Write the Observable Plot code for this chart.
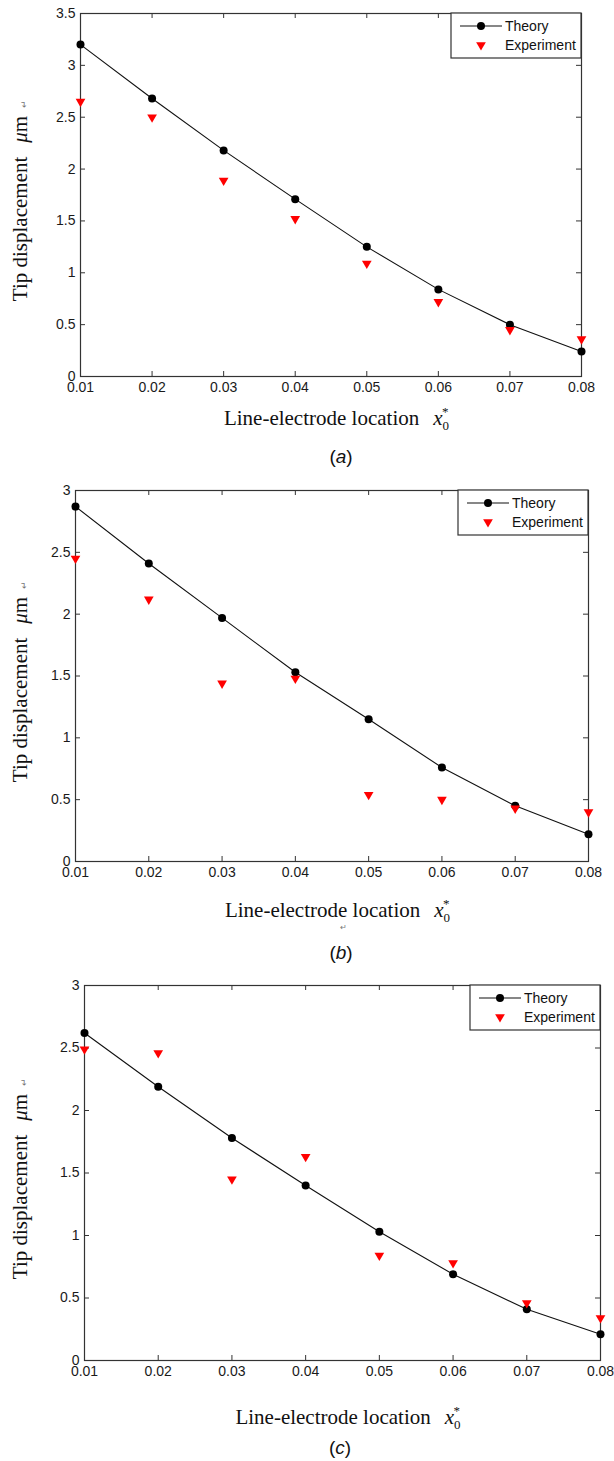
<!DOCTYPE html>
<html>
<head>
<meta charset="utf-8">
<script src="https://cdn.jsdelivr.net/npm/d3@7"></script>
<script src="https://cdn.jsdelivr.net/npm/@observablehq/plot@0.6"></script>
<style>
  html, body { margin: 0; padding: 0; background: #fff; }
  body { width: 614px; height: 1461px; position: relative; overflow: hidden; }
  .panel { position: absolute; left: 0; }
  .cap { position: absolute; font-family: "Liberation Sans", Arial, sans-serif; font-size: 19px; color: #111;
         transform: translate(-50%, -50%); white-space: nowrap; }
</style>
</head>
<body>
<script>
// ---------- data ----------
const xLocations = [0.01, 0.02, 0.03, 0.04, 0.05, 0.06, 0.07, 0.08];
const xTicks = [0.01, 0.02, 0.03, 0.04, 0.05, 0.06, 0.07, 0.08];

const theoryA     = [3.20, 2.68, 2.18, 1.71, 1.25, 0.84, 0.50, 0.24];
const experimentA = [2.65, 2.50, 1.89, 1.52, 1.09, 0.72, 0.45, 0.36];

const theoryB     = [2.87, 2.41, 1.97, 1.53, 1.15, 0.76, 0.45, 0.22];
const experimentB = [2.45, 2.12, 1.44, 1.48, 0.54, 0.50, 0.43, 0.40];

const theoryC     = [2.62, 2.19, 1.78, 1.40, 1.03, 0.69, 0.41, 0.21];
const experimentC = [2.49, 2.46, 1.45, 1.63, 0.84, 0.78, 0.46, 0.34];

const yTicksA = [0, 0.5, 1, 1.5, 2, 2.5, 3, 3.5];
const yTicksBC = [0, 0.5, 1, 1.5, 2, 2.5, 3];

const seriesNames = ["Theory", "Experiment"];
const panelLetters = ["a", "b", "c"];

// ---------- drawing ----------
const sans = "'Liberation Sans', Arial, sans-serif";
const serif = "'Liberation Serif', 'Times New Roman', serif";

function makePanel(cfg) {
  const {theory, experiment, yMax, yTicks, top, height, mt, mb, ml, mr, xLabelDy, letter, captionY, captionX, returnMark} = cfg;
  const W = 614;
  const fw = W - ml - mr, fh = height - mt - mb;
  const data = xLocations.map((x, i) => ({x, theory: theory[i], experiment: experiment[i]}));

  const plot = Plot.plot({
    width: W, height,
    marginTop: mt, marginBottom: mb, marginLeft: ml, marginRight: mr,
    style: {fontFamily: sans, fontSize: "14px", color: "#1a1a1a", background: "white", overflow: "visible"},
    x: {domain: [0.01, 0.08]},
    y: {domain: [0, yMax]},
    marks: [
      Plot.axisX(xTicks, {tickSize: 0, tickPadding: 6, tickFormat: d => d.toFixed(2), label: null, fontSize: 14}),
      Plot.axisY(yTicks, {tickSize: 0, tickPadding: 5, tickFormat: d => String(d), label: null, fontSize: 14}),
      Plot.tickX(xTicks, {x: d => d, insetTop: fh - 5, stroke: "#333"}),
      Plot.tickX(xTicks, {x: d => d, insetBottom: fh - 5, stroke: "#333"}),
      Plot.tickY(yTicks, {y: d => d, insetRight: fw - 5, stroke: "#333"}),
      Plot.tickY(yTicks, {y: d => d, insetLeft: fw - 5, stroke: "#333"}),
      Plot.frame({stroke: "#333", strokeWidth: 1.2}),
      Plot.line(data, {x: "x", y: "theory", stroke: "#111", strokeWidth: 1.1}),
      Plot.dot(data, {x: "x", y: "theory", r: 4, fill: "black", stroke: "none"}),
      Plot.dot(data, {x: "x", y: "experiment", symbol: "triangle", rotate: 180, r: 3.6, fill: "#f00", stroke: "none"})
    ]
  });

  const svg = d3.select(plot);

  // legend
  const lw = 130, lh = 45;
  const lx = ml + fw - lw, ly = mt;
  const g = svg.append("g").attr("text-anchor", "start");
  g.append("rect").attr("x", lx).attr("y", ly).attr("width", lw).attr("height", lh)
    .attr("fill", "white").attr("stroke", "#333").attr("stroke-width", 1.2);
  const r1 = ly + 13, r2 = ly + 32;
  g.append("line").attr("x1", lx + 9).attr("x2", lx + 51).attr("y1", r1).attr("y2", r1)
    .attr("stroke", "#111").attr("stroke-width", 1.1);
  g.append("circle").attr("cx", lx + 30).attr("cy", r1).attr("r", 4).attr("fill", "black");
  g.append("path").attr("d", d3.symbol(d3.symbolTriangle, Math.PI * 3.6 * 3.6))
    .attr("transform", `translate(${lx + 30},${r2}) rotate(180)`).attr("fill", "#f00");
  g.append("text").attr("x", lx + 54).attr("y", r1 + 5).attr("text-anchor", "start")
    .attr("font-family", sans).attr("font-size", 14).attr("fill", "#111").text(seriesNames[0]);
  g.append("text").attr("x", lx + 54).attr("y", r2 + 5).attr("text-anchor", "start")
    .attr("font-family", sans).attr("font-size", 14).attr("fill", "#111").text(seriesNames[1]);

  // x label
  const xl = svg.append("text").attr("x", ml + fw / 2 + 6).attr("y", mt + fh + xLabelDy)
    .attr("text-anchor", "middle").attr("font-family", serif).attr("font-size", 21).attr("fill", "#111");
  xl.append("tspan").text("Line-electrode location");
  xl.append("tspan").attr("dx", 14).attr("font-style", "italic").text("x");
  xl.append("tspan").attr("font-size", 13).attr("dy", 5).text("0");
  xl.append("tspan").attr("font-size", 13).attr("dx", -7).attr("dy", -14).text("*");
  if (returnMark) {
    svg.append("text").attr("x", ml + fw / 2 + 12).attr("y", mt + fh + xLabelDy + 13)
      .attr("text-anchor", "middle").attr("font-family", sans).attr("font-size", 8).attr("fill", "#777").text("↵");
  }

  // y label
  const yl = svg.append("text").attr("transform", `translate(27,${mt + fh / 2 + 6}) rotate(-90)`)
    .attr("text-anchor", "middle").attr("font-family", serif).attr("font-size", 21).attr("fill", "#111");
  yl.append("tspan").text("Tip displacement");
  yl.append("tspan").attr("dx", 14).attr("font-style", "italic").text("μ");
  yl.append("tspan").text("m");
  yl.append("tspan").attr("dx", 8).attr("font-size", 9).attr("fill", "#777").text("↵");

  const div = document.createElement("div");
  div.className = "panel";
  div.style.top = top + "px";
  div.appendChild(plot);
  document.body.appendChild(div);

  const cap = document.createElement("div");
  cap.className = "cap";
  cap.style.left = captionX + "px";
  cap.style.top = captionY + "px";
  cap.innerHTML = `(<i>${letter}</i>)`;
  document.body.appendChild(cap);
}

makePanel({theory: theoryA, experiment: experimentA, yMax: 3.5, yTicks: yTicksA,
  top: 0, height: 440, mt: 13, mb: 64, ml: 80, mr: 33, xLabelDy: 49, letter: panelLetters[0],
  captionX: 341, captionY: 457, returnMark: false});
makePanel({theory: theoryB, experiment: experimentB, yMax: 3, yTicks: yTicksBC,
  top: 470, height: 455, mt: 20, mb: 64, ml: 75, mr: 26, xLabelDy: 56, letter: panelLetters[1],
  captionX: 341, captionY: 953, returnMark: true});
makePanel({theory: theoryC, experiment: experimentC, yMax: 3, yTicks: yTicksBC,
  top: 965, height: 460, mt: 20, mb: 65, ml: 84, mr: 14, xLabelDy: 64, letter: panelLetters[2],
  captionX: 340, captionY: 1448, returnMark: false});
</script>
</body>
</html>
